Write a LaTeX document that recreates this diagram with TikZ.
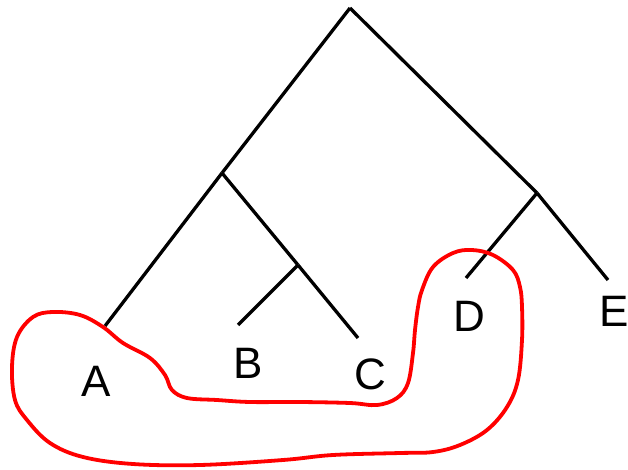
\documentclass[tikz,border=0pt]{standalone}
\usepackage{fontspec}
\setmainfont{Liberation Sans}
\begin{document}
\begin{tikzpicture}[x=1pt,y=-1pt,
  branch/.style={line width=3.3pt,black},
  leaflabel/.style={font=\fontsize{44}{50}\selectfont,inner sep=0pt},
  blob/.style={line width=3.8pt,red}]
\useasboundingbox (0,0) rectangle (628,470);
\coordinate (root) at (350,8);
\coordinate (L) at (222,173);
\coordinate (R) at (537,193);
\coordinate (BC) at (298,265);
\coordinate (a) at (105,326);
\coordinate (b) at (238,325);
\coordinate (c) at (358,338);
\coordinate (d) at (466,278);
\coordinate (e) at (608,280);
\draw[branch] (root) -- (L);
\draw[branch] (root) -- (R);
\draw[branch] (L) -- (a);
\draw[branch] (L) -- (BC);
\draw[branch] (BC) -- (b);
\draw[branch] (BC) -- (c);
\draw[branch] (R) -- (d);
\draw[branch] (R) -- (e);
\node[leaflabel] (A) at (96,381) {A};
\node[leaflabel] (B) at (248,363) {B};
\node[leaflabel] (C) at (370,374) {C};
\node[leaflabel] (D) at (469,316) {D};
\node[leaflabel] (E) at (614,311) {E};
\draw[blob] plot[smooth cycle,tension=0.6] coordinates {
(103,327)(123,343)(150,358)(165,375)(172,390)(187,398)(217,400)(250,402)(300,402)(350,403)(377,405)(397,398)(408,383)(413,353)(415,330)(418,307)(422,290)(433,267)(453,253)(472,250)(493,255)(513,270)(520,287)(522,307)(522,340)(518,380)(507,407)(487,430)(460,445)(433,452)(400,453)(333,455)(283,460)(200,465)(133,464)(83,457)(50,443)(27,420)(15,400)(12,367)(17,337)(33,317)(53,312)(80,315)};
\end{tikzpicture}
\end{document}
